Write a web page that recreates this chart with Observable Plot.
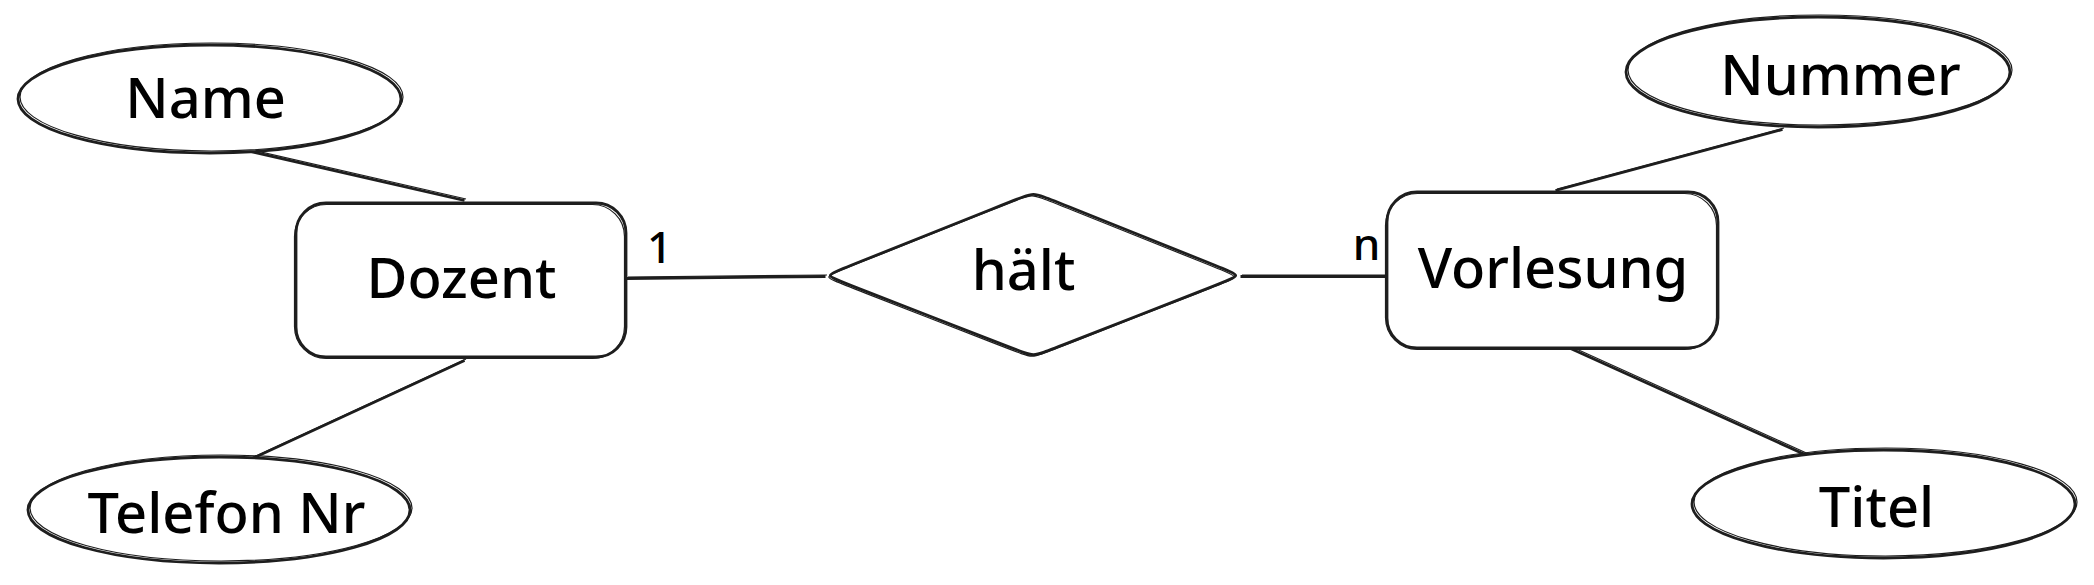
<!DOCTYPE html>
<html><head><meta charset="utf-8">
<script src="https://cdn.jsdelivr.net/npm/d3@7"></script>
<script src="https://cdn.jsdelivr.net/npm/@observablehq/plot@0.6"></script>
<style>html,body{margin:0;padding:0;background:#fff;} #chart svg{display:block}</style>
</head><body><div id="chart"></div>
<script>
// Entities (rounded rectangles)
const entityNames = ["Dozent", "Vorlesung"];
const entityX1 = [296, 1387];
const entityX2 = [626, 1718];
const entityY1 = [203, 192];
const entityY2 = [357, 348];

// Attributes (ellipses)
const attrNames = ["Name", "Telefon Nr", "Nummer", "Titel"];
const attrX1 = [18, 28, 1626, 1692];
const attrX2 = [401, 410, 2010, 2075];
const attrY1 = [45, 457, 17, 450];
const attrY2 = [153, 563, 127, 558];
const attrLabelX = [205, 226, 1840, 1876];
const attrLabelY = [100, 515, 77, 509];

// Relationship (diamond)
const relNames = ["hält"];
const relLeft = [825], relRight = [1240], relTop = [192], relBottom = [356], relMidX = [1033], relMidY = [275];
const relLabelX = [1023], relLabelY = [272];

// Connecting lines
const edgeFrom = ["Name", "Dozent", "Dozent", "hält", "Nummer", "Vorlesung"];
const edgeTo = ["Dozent", "Telefon Nr", "hält", "Vorlesung", "Vorlesung", "Titel"];
const edgeX1 = [250, 464, 626, 1240, 1782, 1559];
const edgeY1 = [151, 360, 278, 276, 129, 343];
const edgeX2 = [464, 241, 825, 1390, 1555, 1811];
const edgeY2 = [200, 463, 276, 276, 190, 457];

// Cardinalities
const cardText = ["1", "n"];
const cardX = [659, 1366];
const cardY = [248, 245];

const entities = entityNames.map((n, i) => ({n, x1: entityX1[i], x2: entityX2[i], y1: entityY1[i], y2: entityY2[i]}));
const attrs = attrNames.map((n, i) => ({n, x1: attrX1[i], x2: attrX2[i], y1: attrY1[i], y2: attrY2[i], lx: attrLabelX[i], ly: attrLabelY[i]}));
const edges = edgeFrom.map((f, i) => ({f, t: edgeTo[i], x1: edgeX1[i], y1: edgeY1[i], x2: edgeX2[i], y2: edgeY2[i]}));
const cards = cardText.map((t, i) => ({t, x: cardX[i], y: cardY[i]}));

// diamond outline with softly rounded corners (basis-closed control points)
const diamondPts = [];
relNames.forEach((n, i) => {
  const corners = [[relLeft[i], relMidY[i]], [relMidX[i], relTop[i]], [relRight[i], relMidY[i]], [relMidX[i], relBottom[i]]];
  const t = 0.07;
  corners.forEach((c, k) => {
    const p = corners[(k + 3) % 4], q = corners[(k + 1) % 4];
    diamondPts.push({r: n, x: c[0] + t * (p[0] - c[0]), y: c[1] + t * (p[1] - c[1])});
    diamondPts.push({r: n, x: c[0], y: c[1]});
    diamondPts.push({r: n, x: c[0] + t * (q[0] - c[0]), y: c[1] + t * (q[1] - c[1])});
  });
});
const rels = relNames.map((n, i) => ({n, x: relLabelX[i], y: relLabelY[i]}));

const font = "'Noto Sans', sans-serif";
const ink = "#1e1e1e";

const chart = Plot.plot({
  width: 2094, height: 585,
  margin: 0,
  x: {domain: [0, 2094], range: [0, 2094], axis: null},
  y: {domain: [0, 585], range: [0, 585], axis: null},
  marks: [
    // connecting lines (double sketch stroke)
    Plot.link(edges, {x1: "x1", y1: "y1", x2: "x2", y2: "y2", stroke: ink, strokeWidth: 2.8}),
    Plot.link(edges, {x1: "x1", y1: "y1", x2: "x2", y2: "y2", stroke: ink, strokeWidth: 1.2, dx: 1.5, dy: -1.5}),
    // entities
    Plot.rect(entities, {x1: "x1", x2: "x2", y1: "y1", y2: "y2", rx: 30, ry: 30, fill: "white", stroke: ink, strokeWidth: 2.8}),
    Plot.rect(entities, {x1: "x1", x2: "x2", y1: "y1", y2: "y2", rx: 32, ry: 32, fill: "none", stroke: ink, strokeWidth: 1.2, dx: -1.5, dy: 1.5}),
    // attributes (ellipses)
    Plot.rect(attrs, {x1: "x1", x2: "x2", y1: "y1", y2: "y2", rx: 400, ry: 200, fill: "white", stroke: ink, strokeWidth: 2.8}),
    Plot.rect(attrs, {x1: "x1", x2: "x2", y1: "y1", y2: "y2", rx: 400, ry: 200, fill: "none", stroke: ink, strokeWidth: 1.2, dx: 2, dy: -2}),
    // relationship
    Plot.line(diamondPts, {x: "x", y: "y", z: "r", curve: "basis-closed", fill: "white", stroke: ink, strokeWidth: 2.8}),
    Plot.line(diamondPts, {x: "x", y: "y", z: "r", curve: "basis-closed", stroke: ink, strokeWidth: 1.2, dx: -1.5, dy: 1.5}),
    // labels
    Plot.text(entities, {x: d => (d.x1 + d.x2) / 2, y: d => (d.y1 + d.y2) / 2, text: "n", fontSize: 56, fontWeight: 500, fontFamily: font, fill: "#000"}),
    Plot.text(attrs, {x: "lx", y: "ly", text: "n", fontSize: 56, fontWeight: 500, fontFamily: font, fill: "#000"}),
    Plot.text(rels, {x: "x", y: "y", text: "n", fontSize: 56, fontWeight: 500, fontFamily: font, fill: "#000"}),
    Plot.text(cards, {x: "x", y: "y", text: "t", fontSize: 44, fontWeight: 500, fontFamily: font, fill: "#000"})
  ]
});
document.getElementById("chart").appendChild(chart);
</script>
</body></html>
